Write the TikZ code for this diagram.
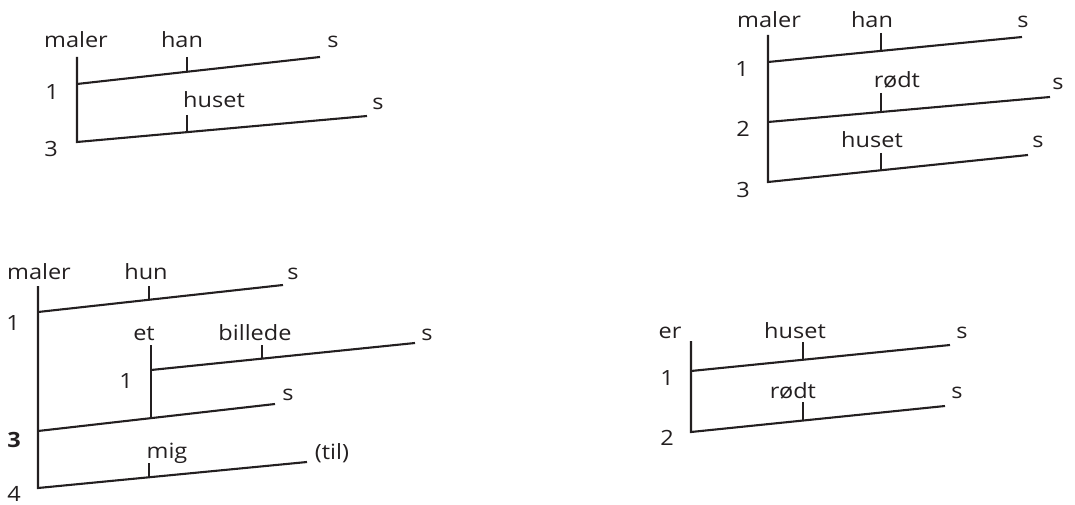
\documentclass[tikz,border=0pt]{standalone}
\usepackage{fontspec}
\setmainfont[FakeStretch=1.12]{Open Sans}
\usepackage{tikz}
\usetikzlibrary{positioning}
\definecolor{tinta}{RGB}{35,31,32}
\tikzset{
  raya/.style={draw=tinta, line width=2.1pt},
  pal/.style={anchor=base, inner sep=0pt, font=\fontsize{21}{25}\selectfont, text=tinta},
  num/.style={pal},
}

\begin{document}
\begin{tikzpicture}[x=1pt,y=-1pt]
  \useasboundingbox (0,0) rectangle (1075,505);
  % maler han huset
  \coordinate (a0) at (77,57);
  \coordinate (a1) at (77,84);   \coordinate (a1e) at (320,57);
  \coordinate (a2) at (77,142);  \coordinate (a2e) at (367,116);
  \coordinate (a1t) at (187,57); \coordinate (a1b) at (187,72);
  \coordinate (a2t) at (187,115);\coordinate (a2b) at (187,132);
  \draw[raya] (a0) -- (a2) -- (a2e);
  \draw[raya] (a1) -- (a1e);
  \draw[raya] (a1t) -- (a1b);
  \draw[raya] (a2t) -- (a2b);
  \node[pal] (a-v) at (76,48) {maler};
  \node[pal] (a-s1) at (182,48) {han};
  \node[pal] (a-e1) at (333,48) {s};
  \node[num] (a-n1) at (52,100) {1};
  \node[pal] (a-s2) at (214,108) {huset};
  \node[pal] (a-e2) at (378,110) {s};
  \node[num] (a-n3) at (51,157) {3};

  % maler han roedt huset
  \coordinate (b0) at (768,35);
  \coordinate (b1) at (768,62);  \coordinate (b1e) at (1022,37);
  \coordinate (b2) at (768,122); \coordinate (b2e) at (1050,97);
  \coordinate (b3) at (768,182); \coordinate (b3e) at (1028,155);
  \coordinate (b1t) at (881,33); \coordinate (b1b) at (881,51);
  \coordinate (b2t) at (881,93); \coordinate (b2b) at (881,112);
  \coordinate (b3t) at (881,153);\coordinate (b3b) at (881,170);
  \draw[raya] (b0) -- (b3) -- (b3e);
  \draw[raya] (b1) -- (b1e);
  \draw[raya] (b2) -- (b2e);
  \draw[raya] (b1t) -- (b1b);
  \draw[raya] (b2t) -- (b2b);
  \draw[raya] (b3t) -- (b3b);
  \node[pal] (b-v) at (769,28) {maler};
  \node[pal] (b-s1) at (872,28) {han};
  \node[pal] (b-e1) at (1023,28) {s};
  \node[num] (b-n1) at (742,77) {1};
  \node[pal] (b-s2) at (897,88) {rødt};
  \node[pal] (b-e2) at (1058,90) {s};
  \node[num] (b-n2) at (743,137) {2};
  \node[pal] (b-s3) at (872,148) {huset};
  \node[pal] (b-e3) at (1038,148) {s};
  \node[num] (b-n3) at (743,197) {3};

  % maler hun et billede mig
  \coordinate (c0) at (38,286);
  \coordinate (c1) at (38,312);  \coordinate (c1e) at (283,285);
  \coordinate (c3) at (38,431);  \coordinate (c3e) at (275,404);
  \coordinate (c4) at (38,488);  \coordinate (c4e) at (307,462);
  \coordinate (c1t) at (149,286);\coordinate (c1b) at (149,300);
  \coordinate (c4t) at (149,463);\coordinate (c4b) at (149,477);
  \coordinate (d0) at (151,345); \coordinate (d3) at (151,418);
  \coordinate (d1) at (151,370); \coordinate (d1e) at (415,343);
  \coordinate (d1t) at (262,345);\coordinate (d1b) at (262,359);
  \draw[raya] (c0) -- (c4) -- (c4e);
  \draw[raya] (c1) -- (c1e);
  \draw[raya] (c3) -- (c3e);
  \draw[raya] (c1t) -- (c1b);
  \draw[raya] (c4t) -- (c4b);
  \draw[raya] (d0) -- (d3);
  \draw[raya] (d1) -- (d1e);
  \draw[raya] (d1t) -- (d1b);
  \node[pal] (c-v) at (39,279) {maler};
  \node[pal] (c-s1) at (146,279) {hun};
  \node[pal] (c-e1) at (293,279) {s};
  \node[num] (c-n1) at (13,330) {1};
  \node[pal] (d-v) at (144,340) {et};
  \node[pal] (d-s1) at (255,340) {billede};
  \node[pal] (d-e1) at (427,340) {s};
  \node[num] (d-n1) at (126,388) {1};
  \node[pal] (c-e3) at (288,400) {s};
  \node[num, font=\fontsize{21}{25}\selectfont\bfseries] (c-n3) at (14,447) {3};
  \node[pal] (c-s4) at (167,458) {mig};
  \node[pal] (c-e4) at (332,459) {(til)};
  \node[num] (c-n4) at (14,501) {4};

  % er huset roedt
  \coordinate (e0) at (691,341);
  \coordinate (e1) at (691,371); \coordinate (e1e) at (950,345);
  \coordinate (e2) at (691,432); \coordinate (e2e) at (945,406);
  \coordinate (e1t) at (803,342);\coordinate (e1b) at (803,360);
  \coordinate (e2t) at (803,402);\coordinate (e2b) at (803,420);
  \draw[raya] (e0) -- (e2) -- (e2e);
  \draw[raya] (e1) -- (e1e);
  \draw[raya] (e1t) -- (e1b);
  \draw[raya] (e2t) -- (e2b);
  \node[pal] (e-v) at (670,338) {er};
  \node[pal] (e-s1) at (795,338) {huset};
  \node[pal] (e-e1) at (962,338) {s};
  \node[num] (e-n1) at (667,385) {1};
  \node[pal] (e-s2) at (793,398) {rødt};
  \node[pal] (e-e2) at (957,398) {s};
  \node[num] (e-n2) at (667,445) {2};
\end{tikzpicture}
\end{document}
